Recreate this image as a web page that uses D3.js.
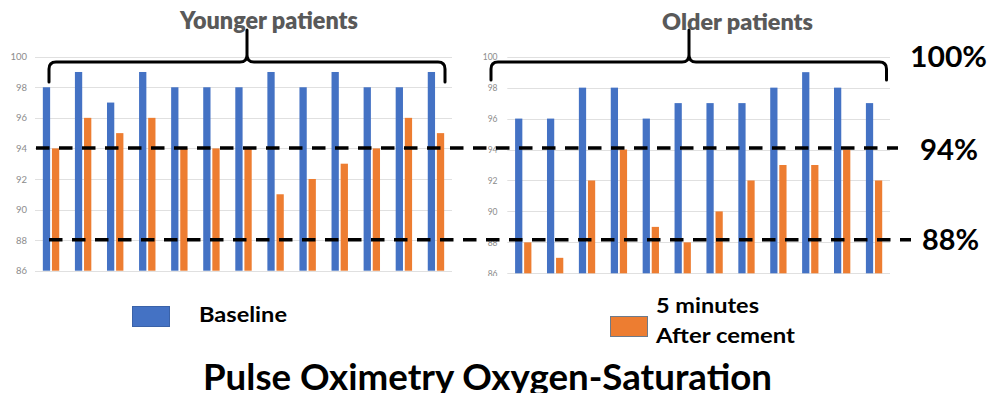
<!DOCTYPE html>
<html><head><meta charset="utf-8">
<script src="https://cdn.jsdelivr.net/npm/d3@7"></script>
<style>html,body{margin:0;padding:0;background:#fff;overflow:hidden}svg{display:block}</style>
</head><body><svg id="c" width="989" height="393"></svg>
<script>
const youngerCategories = d3.range(1, 14);
const youngerBaseline = [98,99,97,99,98,98,98,99,98,99,98,98,99];
const youngerAfter    = [94,96,95,96,94,94,94,91,92,93,94,96,95];
const olderCategories = d3.range(1, 13);
const olderBaseline = [96,96,98,98,96,97,97,97,98,99,98,97];
const olderAfter    = [88,87,92,94,89,88,90,92,93,93,94,92];
const yTicks = [86,88,90,92,94,96,98,100];
const thresholdValues = [94, 88];
const thresholdLabels = ["94%", "88%"];
const topLabel = "100%";
const seriesNames = ["Baseline", "5 minutes After cement"];
const panelTitles = ["Younger patients", "Older patients"];
const mainTitle = "Pulse Oximetry Oxygen-Saturation";

const BLUE = "#4472C4", ORANGE = "#ED7D31";
const svg = d3.select("#c");
const FONT = "Lato, 'Open Sans', sans-serif";

function panel(cfg) {
  const g = svg.append("g");
  if (cfg.clip) {
    svg.append("clipPath").attr("id", cfg.clip).append("rect")
      .attr("x", 0).attr("y", 0).attr("width", 989).attr("height", cfg.clipBottom);
    g.attr("clip-path", `url(#${cfg.clip})`);
  }
  const x0 = d3.scaleBand().domain(cfg.cats).range(cfg.xr).padding(0);
  const x1 = d3.scaleBand().domain(["b", "a"]).range([0, x0.bandwidth()])
    .paddingInner(0.2).paddingOuter(0.86);
  const y = d3.scaleLinear().domain([86, 100]).range(cfg.yr);
  g.append("g").selectAll("line").data(yTicks).join("line")
    .attr("x1", cfg.xr[0]).attr("x2", cfg.xr[1])
    .attr("y1", d => Math.round(y(d)) + 0.5).attr("y2", d => Math.round(y(d)) + 0.5)
    .attr("stroke", "#e0e0e0").attr("stroke-width", 1);
  const ax = d3.axisLeft(y).tickValues(yTicks).tickSize(0).tickPadding(0);
  const axg = g.append("g").attr("transform", `translate(${cfg.labelX},0)`).call(ax);
  axg.select(".domain").remove();
  axg.selectAll("text").attr("fill", "#8c8c8c").style("font-family", "Lato, sans-serif")
    .style("font-size", cfg.tickSize + "px");
  const rows = cfg.cats.map((c, i) => ({c, b: cfg.base[i], a: cfg.after[i]}));
  const grp = g.append("g").selectAll("g").data(rows).join("g")
    .attr("transform", d => `translate(${x0(d.c)},0)`);
  grp.selectAll("rect").data(d => [{k: "b", v: d.b}, {k: "a", v: d.a}]).join("rect")
    .attr("x", d => x1(d.k)).attr("width", x1.bandwidth())
    .attr("y", d => y(d.v)).attr("height", d => y(86) - y(d.v))
    .attr("fill", d => d.k === "b" ? BLUE : ORANGE);
  return {x0, x1, y};
}

const left = panel({cats: youngerCategories, base: youngerBaseline, after: youngerAfter,
  xr: [35, 452], yr: [270.7, 56.7], labelX: 27, tickSize: 9.5});
const right = panel({cats: olderCategories, base: olderBaseline, after: olderAfter,
  xr: [507.3, 890], yr: [273.3, 56.7], labelX: 497.5, tickSize: 8.5, clip: "rc", clipBottom: 276});

function brace(xa, xm, xb, yh, yEnd, yTip) {
  const r = 7;
  const p = d3.path();
  p.moveTo(xa, yEnd); p.lineTo(xa, yh + r); p.quadraticCurveTo(xa, yh, xa + r, yh);
  p.lineTo(xm - r, yh); p.quadraticCurveTo(xm, yh, xm, yh - r); p.lineTo(xm, yTip);
  p.moveTo(xm, yh - r); p.quadraticCurveTo(xm, yh, xm + r, yh);
  p.lineTo(xb - r, yh); p.quadraticCurveTo(xb, yh, xb, yh + r); p.lineTo(xb, yEnd);
  svg.append("path").attr("d", p.toString()).attr("fill", "none")
    .attr("stroke", "#000").attr("stroke-width", 3).attr("stroke-linecap", "round");
}
brace(49, 247, 445, 62, 82, 30);
brace(491, 689, 886.5, 62, 80, 30);

svg.append("text").attr("x", 180).attr("y", 29).text(panelTitles[0])
  .attr("fill", "#595959").style("font-family", FONT).style("font-weight", 800)
  .style("font-size", "24px").attr("textLength", 178).attr("lengthAdjust", "spacingAndGlyphs");
svg.append("text").attr("x", 662).attr("y", 30).text(panelTitles[1])
  .attr("fill", "#595959").style("font-family", FONT).style("font-weight", 800)
  .style("font-size", "23px").attr("textLength", 151).attr("lengthAdjust", "spacingAndGlyphs");

const lineSpans = [[36, 898], [49, 911]];
thresholdValues.forEach((v, i) => {
  svg.append("line").attr("x1", lineSpans[i][0]).attr("x2", lineSpans[i][1])
    .attr("y1", left.y(v) - 0.5).attr("y2", left.y(v) - 0.5)
    .attr("stroke", "#000").attr("stroke-width", 3.5).attr("stroke-dasharray", "13.5,9.5");
});
const bigLabels = [{t: topLabel, x: 910, y: 67, w: 77},
  {t: thresholdLabels[0], x: 920, y: 160, w: 58},
  {t: thresholdLabels[1], x: 922, y: 250, w: 57}];
svg.append("g").selectAll("text").data(bigLabels).join("text")
  .attr("x", d => d.x).attr("y", d => d.y).text(d => d.t)
  .attr("textLength", d => d.w).attr("lengthAdjust", "spacingAndGlyphs")
  .style("font-family", FONT).style("font-weight", 700).style("font-size", "28px").attr("fill", "#000");

svg.append("rect").attr("x", 132.5).attr("y", 306.5).attr("width", 37).attr("height", 20)
  .attr("fill", BLUE).attr("stroke", "#3a62a8").attr("stroke-width", 1);
svg.append("rect").attr("x", 610.5).attr("y", 316.5).attr("width", 37).attr("height", 20)
  .attr("fill", ORANGE).attr("stroke", "#6d7a8a").attr("stroke-width", 1);
const legTxt = [{t: seriesNames[0], x: 199, y: 322, w: 88},
  {t: "5 minutes", x: 656, y: 313, w: 103},
  {t: "After cement", x: 656, y: 343, w: 139}];
svg.append("g").selectAll("text").data(legTxt).join("text")
  .attr("x", d => d.x).attr("y", d => d.y).text(d => d.t)
  .attr("textLength", d => d.w).attr("lengthAdjust", "spacingAndGlyphs")
  .style("font-family", FONT).style("font-weight", 700).style("font-size", "21px").attr("fill", "#000");

svg.append("text").attr("x", 203).attr("y", 390).text(mainTitle)
  .attr("textLength", 569).attr("lengthAdjust", "spacingAndGlyphs")
  .style("font-family", FONT).style("font-weight", 700).style("font-size", "36px").attr("fill", "#000");
</script></body></html>
